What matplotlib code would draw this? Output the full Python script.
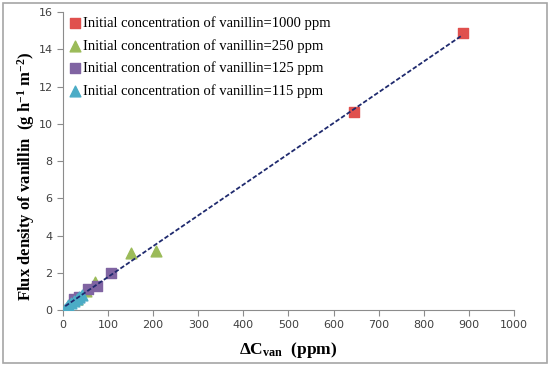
import numpy as np
import matplotlib
matplotlib.use('Agg')
import matplotlib.pyplot as plt
from matplotlib.patches import Rectangle

plt.rcParams['mathtext.fontset'] = 'custom'
plt.rcParams['mathtext.rm'] = 'Liberation Serif'
plt.rcParams['mathtext.it'] = 'Liberation Serif:italic'
plt.rcParams['mathtext.bf'] = 'Liberation Serif:bold'

# datos
x_1000 = [645, 886]
y_1000 = [10.65, 14.85]
x_250 = [207, 151, 72, 51, 30]
y_250 = [3.18, 3.05, 1.52, 1.0, 0.6]
x_125 = [106, 75, 55, 35, 24]
y_125 = [1.98, 1.29, 1.15, 0.7, 0.6]
x_115 = [42, 36, 30, 24, 18, 12, 8, 5]
y_115 = [0.78, 0.7, 0.6, 0.5, 0.38, 0.25, 0.15, 0.05]

etiquetas = ['Initial concentration of vanillin=1000 ppm',
             'Initial concentration of vanillin=250 ppm',
             'Initial concentration of vanillin=125 ppm',
             'Initial concentration of vanillin=115 ppm']

fig = plt.figure(figsize=(5.5, 3.66), dpi=100)
ax = fig.add_axes([0.1145, 0.153, 0.82, 0.814])

ax.scatter(x_1000, y_1000, marker='s', s=55, color='#E0504D', label=etiquetas[0], zorder=3)
ax.scatter(x_250, y_250, marker='^', s=60, color='#9BBB59', label=etiquetas[1], zorder=3)
ax.scatter(x_125, y_125, marker='s', s=55, color='#8064A2', label=etiquetas[2], zorder=3)
ax.scatter(x_115, y_115, marker='^', s=60, color='#4BACC6', label=etiquetas[3], zorder=3)

# linea de tendencia
todos_x = np.array(x_1000 + x_250 + x_125 + x_115)
todos_y = np.array(y_1000 + y_250 + y_125 + y_115)
m, b = np.polyfit(todos_x, todos_y, 1)
xs = np.array([todos_x.min(), todos_x.max()])
ax.plot(xs, m * xs + b, linestyle='--', color='#1F2A6E', linewidth=1.3, dashes=(2.5, 1.2), zorder=4)

ax.set_xlim(0, 1000)
ax.set_ylim(0, 16)
ax.set_xticks(range(0, 1001, 100))
ax.set_yticks(range(0, 17, 2))
for lado in ['top', 'right']:
    ax.spines[lado].set_visible(False)
for lado in ['left', 'bottom']:
    ax.spines[lado].set_color('#8C8C8C')
ax.tick_params(direction='out', length=4, color='#8C8C8C', labelsize=8, labelcolor='#404040')

ax.set_xlabel(r'$\mathbf{\Delta C_{van}}$  (ppm)', family='Liberation Serif', fontsize=12.5,
              fontweight='bold')
ax.xaxis.set_label_coords(0.5, -0.1)
ax.set_ylabel(r'Flux density of vanillin  (g h$^{\mathbf{-1}}$ m$^{\mathbf{-2}}$)',
              family='Liberation Serif', fontsize=12, fontweight='bold')
ax.yaxis.set_label_coords(-0.058, 0.45)

ax.legend(loc='upper left', bbox_to_anchor=(-0.016, 1.02), frameon=False, handletextpad=0.0,
          labelspacing=0.6, borderaxespad=0.3, prop={'family': 'Liberation Serif', 'size': 10.5},
          handlelength=1.2)

fig.patches.append(Rectangle((0.006, 0.008), 0.988, 0.984, transform=fig.transFigure,
                             fill=False, edgecolor='#A6A6A6', linewidth=1.2))

fig.savefig('out.png', dpi=100)
